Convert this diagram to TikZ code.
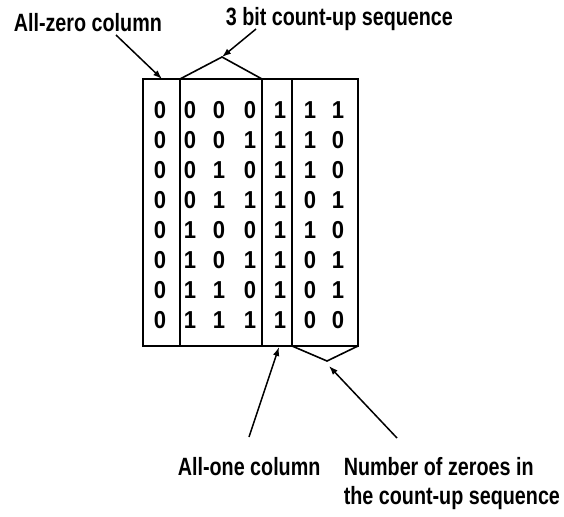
\documentclass[tikz,border=0pt]{standalone}
\usepackage{fontspec}
\setmainfont{Liberation Sans}[FakeStretch=0.79]
\newfontfamily\tabledigits{Liberation Sans}[FakeStretch=0.9]
\usetikzlibrary{arrows.meta}

\begin{document}
\begin{tikzpicture}[x=1pt,y=-1pt,line width=1.6pt,
  colbox/.style={draw,line width=1.6pt,inner sep=0pt,outer sep=0pt,minimum height=267pt},
  digit/.style={font=\tabledigits\fontsize{24.5}{24.5}\selectfont\bfseries,inner sep=0pt},
  lbl/.style={font=\fontsize{25}{25}\selectfont\bfseries,inner sep=0pt,anchor=base west},
  ptr/.style={line width=1.5pt,-{Latex[length=9pt,width=6.5pt]}}]
\useasboundingbox (0,0) rectangle (564,516);

% the four column groups of the table
\node[colbox,minimum width=37pt] (zc) at (161.5,212.5) {};
\node[colbox,minimum width=82pt] (cu) at (221,212.5) {};
\node[colbox,minimum width=30pt] (oc) at (277,212.5) {};
\node[colbox,minimum width=66pt] (nz) at (325,212.5) {};

% brace-like chevrons over the count-up group and under the zero-count group
\coordinate (capex) at (222,57);
\coordinate (zapex) at (327,361);
\draw (cu.north west) -- (capex) -- (cu.north east);
\draw (nz.south west) -- (zapex) -- (nz.south east);

% table entries
\foreach \r [count=\i from 0] in {
  {0,0,0,0,1,1,1},{0,0,0,1,1,1,0},{0,0,1,0,1,1,0},{0,0,1,1,1,0,1},
  {0,1,0,0,1,1,0},{0,1,0,1,1,0,1},{0,1,1,0,1,0,1},{0,1,1,1,1,0,0}}{
  \foreach \d [count=\j from 0] in \r {
    \pgfmathsetmacro{\cx}{{160,190,219,250,280,310,338}[\j]}
    \node[digit] (d\i\j) at (\cx,110+30*\i) {\d};
  }
}

% labels
\node[lbl] (lzero) at (13,32) {All-zero column};
\node[lbl] (lseq) at (225,26) {3 bit count-up sequence};
\node[lbl] (lone) at (177,475) {All-one column};
\node[lbl] (lnum1) at (343,475) {Number of zeroes in};
\node[lbl] (lnum2) at (343,504) {the count-up sequence};

% pointers from the labels
\coordinate (zt) at (116,35);
\coordinate (zh) at (162,79);
\coordinate (st) at (256,29);
\coordinate (ot) at (249,437);
\coordinate (oh) at (279,347);
\coordinate (nt) at (397,438);
\coordinate (nh) at (329,366);
\draw[ptr] (zt) -- (zh);
\draw[ptr] (st) -- (capex);
\draw[ptr] (ot) -- (oh);
\draw[ptr] (nt) -- (nh);
\end{tikzpicture}
\end{document}
